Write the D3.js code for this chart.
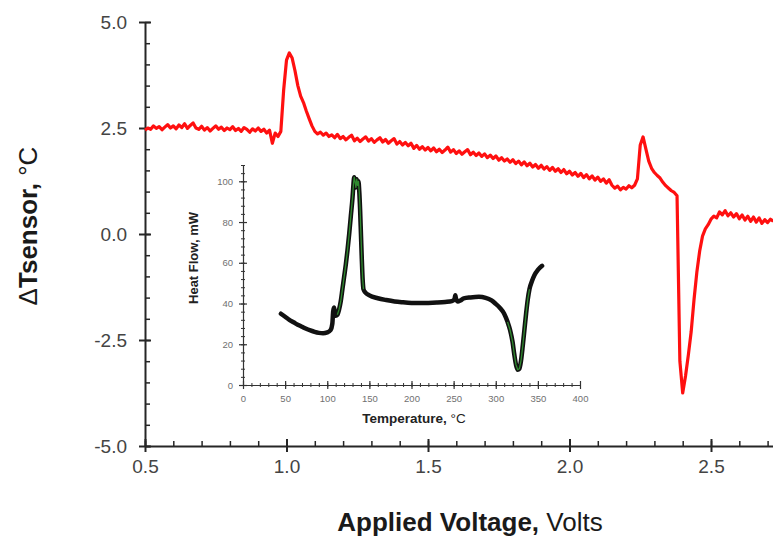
<!DOCTYPE html>
<html>
<head>
<meta charset="utf-8">
<script src="https://cdn.jsdelivr.net/npm/d3@7"></script>
<style>
  html, body { margin: 0; padding: 0; background: #fff; }
  svg { display: block; font-family: "Liberation Sans", Arial, sans-serif; }
</style>
</head>
<body>
<svg id="chart" width="773" height="544"></svg>
<script>
// ---------------- DATA ----------------
// Main trace: [Applied Voltage (V), ΔTsensor (°C)]
const sensorTrace = [
  [0.50,2.45],[0.51,2.50],[0.52,2.47],[0.53,2.55],[0.54,2.49],[0.55,2.53],[0.56,2.46],[0.57,2.52],[0.58,2.58],[0.59,2.50],
  [0.60,2.55],[0.61,2.48],[0.62,2.57],[0.63,2.51],[0.64,2.60],[0.65,2.49],[0.66,2.56],[0.67,2.62],[0.68,2.50],[0.69,2.47],
  [0.70,2.54],[0.71,2.45],[0.72,2.51],[0.73,2.43],[0.74,2.49],[0.75,2.55],[0.76,2.47],[0.77,2.52],[0.78,2.44],[0.79,2.50],
  [0.80,2.46],[0.81,2.53],[0.82,2.44],[0.83,2.49],[0.84,2.42],[0.85,2.51],[0.86,2.47],[0.87,2.40],[0.88,2.48],[0.89,2.43],
  [0.90,2.50],[0.91,2.42],[0.92,2.47],[0.93,2.38],[0.94,2.45],[0.95,2.14],[0.96,2.38],[0.97,2.30],[0.98,2.42],[0.99,3.40],
  [1.00,4.10],[1.01,4.27],[1.02,4.15],[1.03,3.85],[1.04,3.50],[1.05,3.25],[1.06,3.10],[1.07,2.90],[1.08,2.72],[1.09,2.55],
  [1.10,2.42],[1.11,2.36],[1.12,2.40],[1.13,2.33],[1.14,2.38],[1.15,2.30],[1.16,2.34],[1.17,2.27],[1.18,2.35],[1.19,2.25],
  [1.20,2.30],[1.21,2.22],[1.22,2.28],[1.23,2.33],[1.24,2.20],[1.25,2.26],[1.26,2.18],[1.27,2.24],[1.28,2.29],[1.29,2.19],
  [1.30,2.25],[1.31,2.16],[1.32,2.22],[1.33,2.27],[1.34,2.17],[1.35,2.23],[1.36,2.14],[1.37,2.20],[1.38,2.25],[1.39,2.12],
  [1.40,2.18],[1.41,2.10],[1.42,2.16],[1.43,2.08],[1.44,2.14],[1.45,2.02],[1.46,2.09],[1.47,2.00],[1.48,2.06],[1.49,1.98],
  [1.50,2.04],[1.51,1.96],[1.52,2.03],[1.53,1.94],[1.54,2.00],[1.55,1.92],[1.56,1.98],[1.57,2.05],[1.58,1.93],[1.59,1.99],
  [1.60,1.90],[1.61,1.96],[1.62,1.88],[1.63,1.94],[1.64,1.99],[1.65,1.87],[1.66,1.93],[1.67,1.85],[1.68,1.91],[1.69,1.83],
  [1.70,1.89],[1.71,1.80],[1.72,1.86],[1.73,1.78],[1.74,1.84],[1.75,1.74],[1.76,1.80],[1.77,1.72],[1.78,1.77],[1.79,1.69],
  [1.80,1.75],[1.81,1.66],[1.82,1.72],[1.83,1.63],[1.84,1.70],[1.85,1.61],[1.86,1.67],[1.87,1.58],[1.88,1.64],[1.89,1.55],
  [1.90,1.62],[1.91,1.53],[1.92,1.59],[1.93,1.50],[1.94,1.57],[1.95,1.48],[1.96,1.54],[1.97,1.45],[1.98,1.52],[1.99,1.42],
  [2.00,1.48],[2.01,1.39],[2.02,1.45],[2.03,1.36],[2.04,1.43],[2.05,1.33],[2.06,1.40],[2.07,1.30],[2.08,1.37],[2.09,1.27],
  [2.10,1.34],[2.11,1.24],[2.12,1.30],[2.13,1.20],[2.14,1.28],[2.15,1.15],[2.16,1.08],[2.17,1.13],[2.18,1.04],[2.19,1.10],
  [2.20,1.06],[2.21,1.14],[2.22,1.09],[2.23,1.15],[2.24,1.30],[2.25,2.10],[2.26,2.29],[2.27,2.00],[2.28,1.72],[2.29,1.55],
  [2.30,1.45],[2.31,1.38],[2.32,1.32],[2.33,1.22],[2.34,1.14],[2.35,1.08],[2.36,1.02],[2.37,0.98],[2.38,0.90],[2.39,-3.00],
  [2.40,-3.75],[2.41,-3.35],[2.42,-2.85],[2.43,-2.30],[2.44,-1.55],[2.45,-0.90],[2.46,-0.40],[2.47,-0.05],[2.48,0.12],[2.49,0.22],
  [2.50,0.35],[2.51,0.42],[2.52,0.38],[2.53,0.52],[2.54,0.45],[2.55,0.55],[2.56,0.43],[2.57,0.50],[2.58,0.40],[2.59,0.48],
  [2.60,0.36],[2.61,0.45],[2.62,0.33],[2.63,0.42],[2.64,0.30],[2.65,0.40],[2.66,0.28],[2.67,0.38],[2.68,0.25],[2.69,0.34],
  [2.70,0.27],[2.71,0.35],[2.72,0.30]
];

// Inset DSC trace: [Temperature (°C), Heat Flow (mW)]
const dscTrace = [
  [45,35],[50,33.5],[55,32],[60,30.8],[65,29.6],[70,28.6],[75,27.6],[80,26.8],[85,26.1],[90,25.6],
  [95,25.4],[100,25.8],[104,27],[106,30],[107,36],[108,38],[109,36],[110,34],[112,34.5],[114,37],
  [116,41],[118,47],[120,53],[122,59],[124,66],[126,74],[128,83],[130,92],[131,98],[132,102],
  [133,100],[134,97],[135,101],[136,98],[137,100],[138,95],[139,86],[140,74],[141,62],[142,52],
  [143,47],[145,45.5],[150,44],[160,42.6],[170,41.7],[180,41],[190,40.6],[200,40.3],[210,40.2],[220,40.3],
  [230,40.5],[240,40.8],[248,41.2],[251,42],[252,44],[253,42],[255,41],[258,41.5],[262,42.5],[270,43],
  [280,43.3],[288,42.8],[295,41.5],[300,39.8],[305,37.8],[310,35],[314,31],[317,27],[320,21],[322,15],
  [324,10],[326,7.5],[328,8],[330,12],[332,19],[334,27],[336,35],[338,42],[340,47],[343,51],
  [346,54],[350,56.5],[355,58.5]
];

const mainXTicks = [0.5, 1.0, 1.5, 2.0, 2.5];
const mainYTicks = [-5.0, -2.5, 0.0, 2.5, 5.0];
const insetXTicks = [0, 50, 100, 150, 200, 250, 300, 350, 400];
const insetYTicks = [0, 20, 40, 60, 80, 100];

// ---------------- DRAW ----------------
const svg = d3.select("#chart");
const axisColor = "#262626";
const fmt1 = d => d.toFixed(1);   // ASCII hyphen minus as in the original

// Main scales
const x = d3.scaleLinear().domain([0.5, 2.75]).range([145, 145 + 283 * 2.25]);
const y = d3.scaleLinear().domain([-5, 5]).range([446, 22]);

// Main minor ticks (x: inward/up)
const xMinor = d3.range(0.5, 2.76, 0.1).map(v => +v.toFixed(2));
svg.append("g").attr("transform", "translate(0,446)")
  .call(d3.axisBottom(x).tickValues(xMinor).tickSize(-5).tickSizeOuter(0).tickFormat(""))
  .call(g => g.select(".domain").remove())
  .call(g => g.selectAll(".tick line").attr("stroke", axisColor).attr("stroke-width", 1.5));

const yMinor = d3.range(-5, 5.01, 0.5).map(v => +v.toFixed(2));
svg.append("g").attr("transform", "translate(145,0)")
  .call(d3.axisLeft(y).tickValues(yMinor).tickSize(-5).tickSizeOuter(0).tickFormat(""))
  .call(g => g.select(".domain").remove())
  .call(g => g.selectAll(".tick line").attr("stroke", axisColor).attr("stroke-width", 1.5));

// Main major axes
const gx = svg.append("g").attr("transform", "translate(0,446)")
  .call(d3.axisBottom(x).tickValues(mainXTicks).tickSize(6).tickSizeOuter(0).tickPadding(8).tickFormat(fmt1));
gx.select(".domain").attr("stroke", axisColor).attr("stroke-width", 2);
gx.selectAll(".tick line").attr("stroke", axisColor).attr("stroke-width", 2).attr("y1", -7).attr("y2", 6);
gx.selectAll(".tick text").attr("fill", "#444").attr("font-size", 19).attr("font-family", "Liberation Sans, Arial, sans-serif");

const gy = svg.append("g").attr("transform", "translate(145,0)")
  .call(d3.axisLeft(y).tickValues(mainYTicks).tickSize(6).tickSizeOuter(0).tickPadding(12).tickFormat(fmt1));
gy.select(".domain").attr("stroke", axisColor).attr("stroke-width", 2);
gy.selectAll(".tick line").attr("stroke", axisColor).attr("stroke-width", 2).attr("x1", 6).attr("x2", -6);
gy.selectAll(".tick text").attr("fill", "#444").attr("font-size", 19).attr("font-family", "Liberation Sans, Arial, sans-serif");

// Main axis titles
const xt = svg.append("text").attr("x", 470).attr("y", 531).attr("text-anchor", "middle")
  .attr("font-size", 26).attr("fill", "#1a1a1a");
xt.append("tspan").attr("font-weight", "bold").text("Applied Voltage,");
xt.append("tspan").text(" Volts");

const yt = svg.append("text").attr("transform", "translate(37,226) rotate(-90)").attr("text-anchor", "middle")
  .attr("font-size", 26).attr("fill", "#1a1a1a");
yt.append("tspan").text("Δ");
yt.append("tspan").attr("font-weight", "bold").text("Tsensor,");
yt.append("tspan").text(" °C");

// ---------------- INSET ----------------
const ix = d3.scaleLinear().domain([0, 400]).range([243, 580]);
const iy = d3.scaleLinear().domain([0, 108]).range([385, 165]);
const insetColor = "#333";

// minor ticks crossing
const ixMinor = d3.range(0, 401, 10);
svg.append("g").attr("transform", "translate(0,385)")
  .call(d3.axisBottom(ix).tickValues(ixMinor).tickSize(2).tickSizeOuter(0).tickFormat(""))
  .call(g => g.select(".domain").remove())
  .call(g => g.selectAll(".tick line").attr("stroke", insetColor).attr("y1", -2).attr("y2", 2));
const iyMinor = d3.range(0, 109, 4);
svg.append("g").attr("transform", "translate(243,0)")
  .call(d3.axisLeft(iy).tickValues(iyMinor).tickSize(2).tickSizeOuter(0).tickFormat(""))
  .call(g => g.select(".domain").remove())
  .call(g => g.selectAll(".tick line").attr("stroke", insetColor).attr("x1", 2).attr("x2", -2));

const igx = svg.append("g").attr("transform", "translate(0,385)")
  .call(d3.axisBottom(ix).tickValues(insetXTicks).tickSize(4).tickSizeOuter(0).tickPadding(6));
igx.select(".domain").attr("stroke", insetColor).attr("stroke-width", 1.2);
igx.selectAll(".tick line").attr("stroke", insetColor).attr("stroke-width", 1.2).attr("y1", -4).attr("y2", 4);
igx.selectAll(".tick text").attr("fill", "#707070").attr("font-size", 9.5);

const igy = svg.append("g").attr("transform", "translate(243,0)")
  .call(d3.axisLeft(iy).tickValues(insetYTicks).tickSize(4).tickSizeOuter(0).tickPadding(6));
igy.select(".domain").attr("stroke", insetColor).attr("stroke-width", 1.2);
igy.selectAll(".tick line").attr("stroke", insetColor).attr("stroke-width", 1.2).attr("x1", 4).attr("x2", -4);
igy.selectAll(".tick text").attr("fill", "#707070").attr("font-size", 9.5);

const ixt = svg.append("text").attr("x", 414).attr("y", 423).attr("text-anchor", "middle")
  .attr("font-size", 13.5).attr("fill", "#222");
ixt.append("tspan").attr("font-weight", "bold").text("Temperature,");
ixt.append("tspan").text(" °C");

svg.append("text").attr("transform", "translate(198,258) rotate(-90)").attr("text-anchor", "middle")
  .attr("font-size", 13).attr("font-weight", "bold").attr("fill", "#222").text("Heat Flow, mW");

const iline = d3.line().x(d => ix(d[0])).y(d => iy(d[1])).curve(d3.curveMonotoneX);
svg.append("path").datum(dscTrace).attr("d", iline)
  .attr("fill", "none").attr("stroke", "#111").attr("stroke-width", 4.5).attr("stroke-linejoin", "round").attr("stroke-linecap", "round");
// green marker cores visible on steep segments
const steep = [dscTrace.filter(d => d[0] >= 112 && d[0] <= 143), dscTrace.filter(d => d[0] >= 314 && d[0] <= 340)];
const lineLin = d3.line().x(d => ix(d[0])).y(d => iy(d[1]));
steep.forEach(seg => {
  svg.append("path").datum(seg).attr("d", lineLin)
    .attr("fill", "none").attr("stroke", "#2f8a2f").attr("stroke-width", 1.3).attr("stroke-linejoin", "round");
});

// ---------------- MAIN TRACE ----------------
const line = d3.line().x(d => x(d[0])).y(d => y(d[1]));
svg.append("path").datum(sensorTrace).attr("d", line)
  .attr("fill", "none").attr("stroke", "#ff1010").attr("stroke-width", 3.2).attr("stroke-linejoin", "round");
</script>
</body>
</html>
